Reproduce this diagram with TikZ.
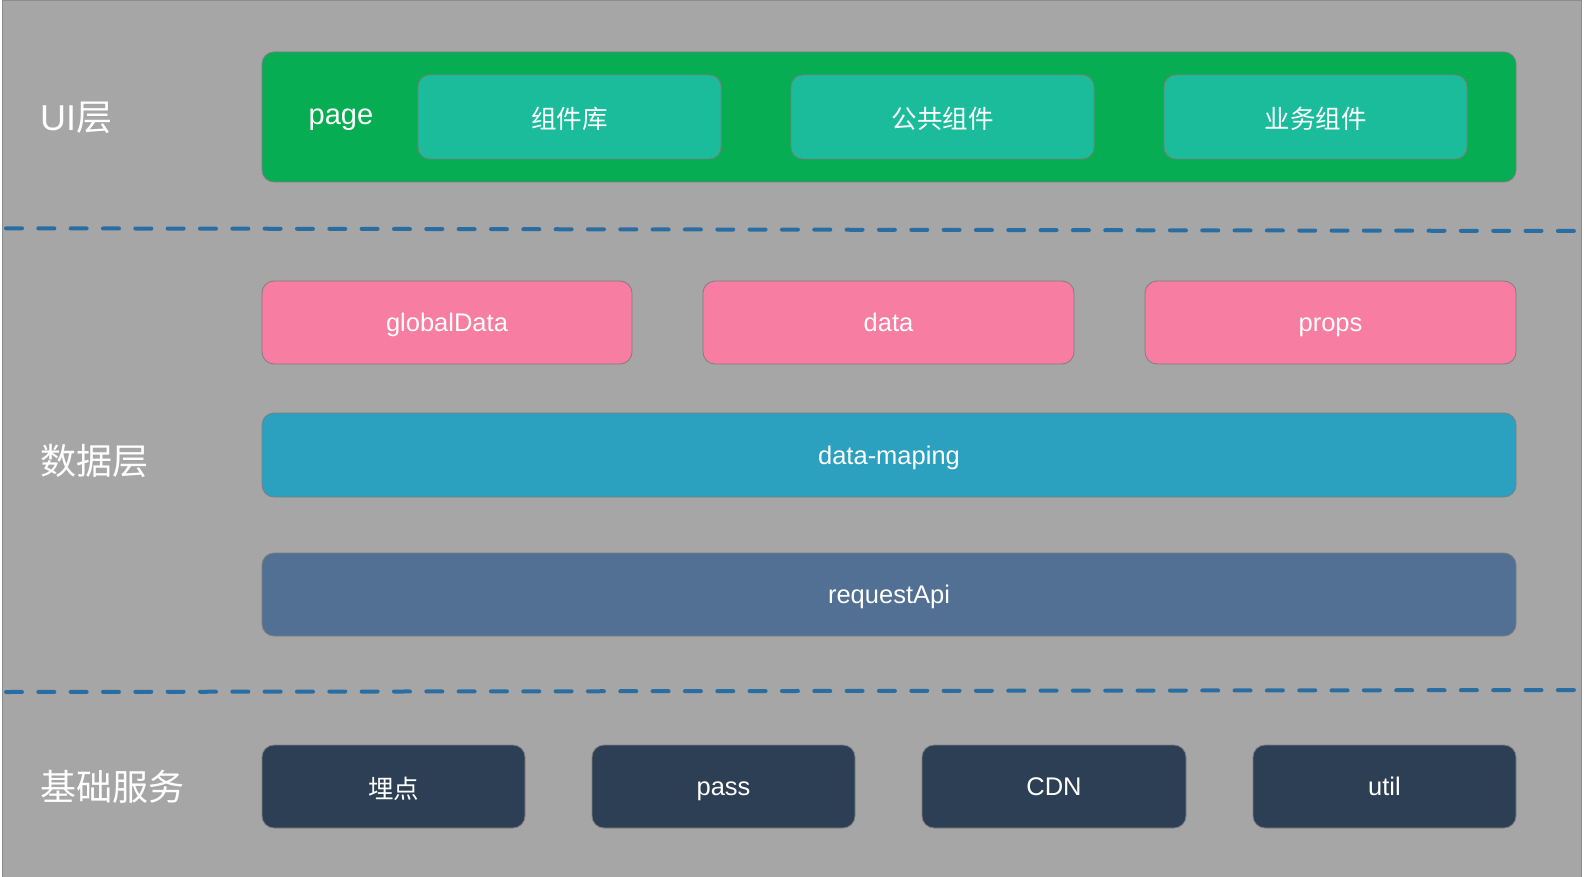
\documentclass[tikz,border=0pt]{standalone}
\usepackage{fontspec}
\setmainfont{Liberation Sans}
\newfontfamily\cjk{Noto Sans CJK SC}
\definecolor{bggray}{HTML}{A6A6A6}
\definecolor{bgedge}{HTML}{8C8C8C}
\definecolor{uigreen}{HTML}{07AD52}
\definecolor{teal}{HTML}{1BBC9C}
\definecolor{pinkc}{HTML}{F87DA3}
\definecolor{mapblue}{HTML}{2BA0BF}
\definecolor{reqblue}{HTML}{517093}
\definecolor{darkc}{HTML}{2D3F55}
\definecolor{dashc}{HTML}{2A6EA1}
\definecolor{boxedge}{HTML}{7E7E7E}
\tikzset{
  box/.style={draw=boxedge, line width=0.8pt, rounded corners=12pt, text=white, font=\fontsize{25.5}{30}\selectfont, text height=18.3pt, text depth=0pt},
  cjkbox/.style={box, font=\fontsize{25.5}{30}\selectfont\cjk, text height=23pt},
  layerlabel/.style={text=white, anchor=west, inner sep=0pt, font=\fontsize{36}{42}\selectfont, text height=25.8pt, text depth=0pt},
  sep/.style={draw=dashc, line width=4pt, line cap=round, dash pattern=on 16pt off 16.33pt}
}
\begin{document}
\begin{tikzpicture}[x=1pt,y=-1pt]
\useasboundingbox (0,0) rectangle (1589,877);
\fill[white] (0,0) rectangle (1589,877);
\filldraw[fill=bggray, draw=bgedge, line width=1pt] (2,877.5) -- (2,0.5) -- (1581.7,0.5) -- (1581.7,877.5);
% UI layer
\draw[box, fill=uigreen] (262,52) rectangle (1516,182);
\node[text=white, font=\fontsize{29}{34}\selectfont, text height=15pt, text depth=0pt] (page) at (341,117) {page};
\draw[cjkbox, fill=teal] (418,75) rectangle node (c1) {组件库} (721,159);
\draw[cjkbox, fill=teal] (791,75) rectangle node (c2) {公共组件} (1094,159);
\draw[cjkbox, fill=teal] (1164,75) rectangle node (c3) {业务组件} (1467,159);
\node[layerlabel] (ui) at (40,118) {UI{\cjk 层}};
% separators
\coordinate (s1a) at (6,228.3);
\coordinate (s1b) at (1576,231);
\coordinate (s2a) at (6,692);
\coordinate (s2b) at (1576,690);
\draw[sep] (s1a) -- (s1b);
\draw[sep] (s2a) -- (s2b);
% data layer
\draw[box, fill=pinkc] (262,281) rectangle node (gd) {globalData} (632,364);
\draw[box, fill=pinkc] (703,281) rectangle node (dt) {data} (1074,364);
\draw[box, fill=pinkc] (1145,281) rectangle node (pr) {props} (1516,364);
\draw[box, fill=mapblue] (262,413) rectangle node (dm) {data-maping} (1516,497);
\draw[box, fill=reqblue] (262,553) rectangle node (ra) {requestApi} (1516,636);
\node[layerlabel] (dl) at (40,462) {\cjk 数据层};
% base services
\draw[cjkbox, fill=darkc] (262,745) rectangle node (b1) {埋点} (525,828);
\draw[box, fill=darkc] (592,745) rectangle node (b2) {pass} (855,828);
\draw[box, fill=darkc] (922,745) rectangle node (b3) {CDN} (1186,828);
\draw[box, fill=darkc] (1253,745) rectangle node (b4) {util} (1516,828);
\node[layerlabel] (bs) at (40,788) {\cjk 基础服务};
\end{tikzpicture}
\end{document}
